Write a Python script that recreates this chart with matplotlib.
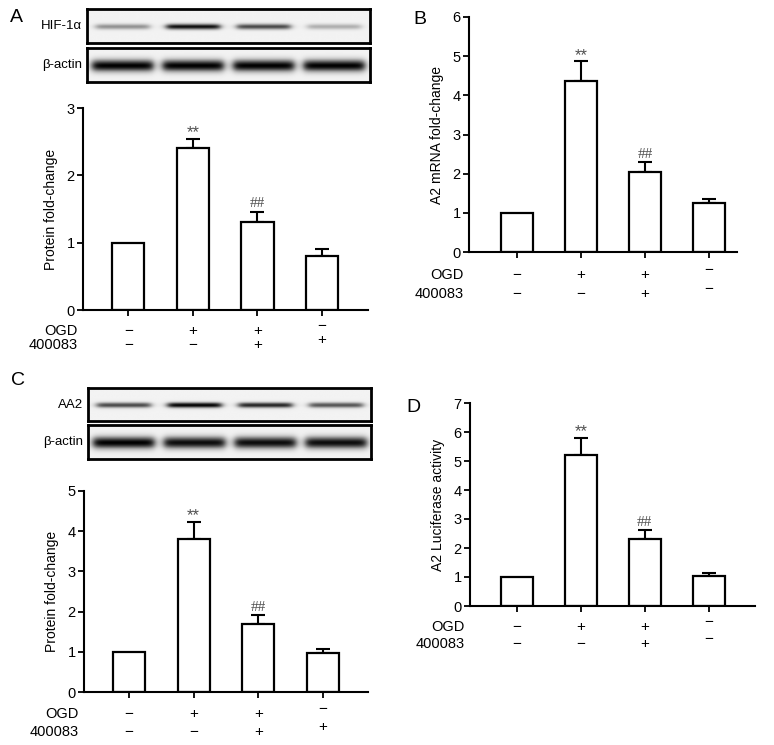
import numpy as np
import matplotlib
matplotlib.use("Agg")
import matplotlib.pyplot as plt

plt.rcParams['font.family'] = ['Liberation Sans', 'DejaVu Sans']

# ---- data ----
groups = ['ctrl', 'OGD', 'OGD+400083', '400083']
ogd_signs = ['−', '+', '+', '−']
drug_signs_A = ['−', '−', '+', '+']
drug_signs_B = ['−', '−', '+', '−']
drug_signs_C = ['−', '−', '+', '+']
drug_signs_D = ['−', '−', '+', '−']

hif_protein = [1.0, 2.40, 1.30, 0.80]
hif_err = [0.0, 0.14, 0.16, 0.10]
a2_mrna = [1.0, 4.37, 2.03, 1.24]
a2_mrna_err = [0.0, 0.50, 0.26, 0.11]
aa2_protein = [1.0, 3.81, 1.70, 0.96]
aa2_err = [0.0, 0.43, 0.21, 0.10]
luciferase = [1.0, 5.21, 2.30, 1.05]
luciferase_err = [0.0, 0.59, 0.31, 0.10]

# band darkness of blot lanes (0 = nothing, 1 = black)
hif_band = [0.40, 0.95, 0.70, 0.28]
actin_band_A = [1.0, 1.0, 1.0, 1.0]
aa2_band = [0.70, 1.0, 0.85, 0.65]
actin_band_C = [1.0, 0.95, 0.95, 0.95]

W, H = 774, 745
fig = plt.figure(figsize=(W / 100, H / 100), dpi=100)


def px_axes(left, top, right, bottom):
    return fig.add_axes([left / W, 1 - bottom / H, (right - left) / W, (bottom - top) / H])


def blot(box, levels, label, thick):
    ax = px_axes(*box)
    nx, ny = 300, 40
    xx = np.linspace(0, 1, nx)
    yy = np.linspace(0, 1, ny)
    img = np.full((ny, nx), 0.95)
    sig = 0.17 if thick else 0.08
    for i, lev in enumerate(levels):
        c = (i + 0.5) / 4
        hw = 0.108 if thick else 0.095
        hprof = 0.5 * (np.tanh((xx - (c - hw)) / 0.015) - np.tanh((xx - (c + hw)) / 0.015))
        vprof = np.exp(-((yy - 0.52) / sig) ** 2)
        img -= 0.95 * lev * np.outer(vprof, hprof)
    ax.imshow(np.clip(img, 0, 1), cmap='gray', vmin=0, vmax=1, aspect='auto',
              extent=[0, 1, 0, 1], interpolation='bilinear')
    ax.set_xticks([])
    ax.set_yticks([])
    for s in ax.spines.values():
        s.set_linewidth(2)
    ax.text(-0.018, 0.5, label, transform=ax.transAxes, ha='right', va='center', fontsize=9.5)
    return ax


def bar_panel(box, vals, errs, ymax, ylabel, drugs, xlim, ogd_px, drug_px):
    ax = px_axes(*box)
    x = np.arange(len(vals))
    ax.bar(x, vals, width=0.5, color='white', edgecolor='black', linewidth=1.6, zorder=2)
    ax.errorbar(x[1:], vals[1:], yerr=[np.zeros(3), errs[1:]], fmt='none', ecolor='black',
                elinewidth=1.5, capsize=5, capthick=1.5, zorder=1)
    ax.annotate('**', (1, vals[1] + errs[1]), xytext=(0, -1), textcoords='offset points',
                ha='center', va='bottom', fontsize=12, color='#505050')
    ax.annotate('##', (2, vals[2] + errs[2]), xytext=(0, 1), textcoords='offset points',
                ha='center', va='bottom', fontsize=11, color='#505050', family='Liberation Serif')
    ax.set_xlim(*xlim)
    ax.set_ylim(0, ymax)
    ax.set_yticks(range(ymax + 1))
    ax.set_xticks(x)
    ax.set_xticklabels([])
    ax.spines['top'].set_visible(False)
    ax.spines['right'].set_visible(False)
    ax.spines['left'].set_linewidth(1.5)
    ax.spines['bottom'].set_linewidth(1.5)
    ax.tick_params(direction='out', length=4, width=1.3, labelsize=10.5, pad=2)
    ax.set_ylabel(ylabel, fontsize=10, labelpad=6)
    h = box[3] - box[1]
    y1 = (box[3] - ogd_px) / h
    y2 = (box[3] - drug_px) / h
    up = 5 / h
    tr = ax.get_xaxis_transform()
    for i in x:
        sh = up if i == 3 else 0
        ax.text(i, y1 + sh, ogd_signs[i], transform=tr, ha='center', va='center', fontsize=11)
        ax.text(i, y2 + sh, drugs[i], transform=tr, ha='center', va='center', fontsize=11)
    ax.text(-0.02, y1, 'OGD', transform=ax.transAxes, ha='right', va='center', fontsize=10.5)
    ax.text(-0.02, y2, '400083', transform=ax.transAxes, ha='right', va='center', fontsize=10.5)
    return ax


# panel A
blot((87, 9, 370, 43), hif_band, 'HIF-1α', False)
blot((87, 48, 370, 82), actin_band_A, 'β-actin', True)
bar_panel((83, 108, 368, 310), hif_protein, hif_err, 3, 'Protein fold-change',
          drug_signs_A, (-0.7, 3.71), 331, 345)

# panel B
bar_panel((469, 17, 737, 252), a2_mrna, a2_mrna_err, 6, 'A2 mRNA fold-change',
          drug_signs_B, (-0.75, 3.44), 275, 294)

# panel C
blot((88, 388, 371, 421), aa2_band, 'AA2', False)
blot((88, 425, 371, 459), actin_band_C, 'β-actin', True)
bar_panel((84, 491, 368, 692), aa2_protein, aa2_err, 5, 'Protein fold-change',
          drug_signs_C, (-0.7, 3.7), 714, 732)

# panel D
bar_panel((470, 403, 755, 606), luciferase, luciferase_err, 7, 'A2 Luciferase activity',
          drug_signs_D, (-0.73, 3.72), 627, 644)

for letter, (px, py) in zip('ABCD', [(16, 18), (420, 20), (18, 380), (413, 408)]):
    fig.text(px / W, 1 - py / H, letter, fontsize=14, ha='center', va='center')

fig.savefig('out.png', dpi=100)
